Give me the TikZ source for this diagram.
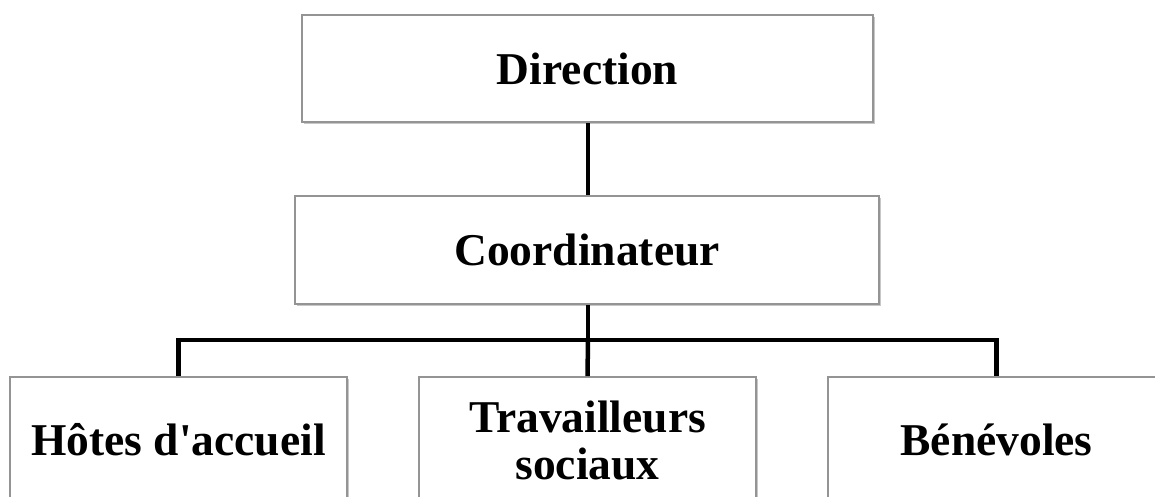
\documentclass[tikz,border=0pt]{standalone}
\usepackage{fontspec}
\setmainfont{Liberation Serif}
\usetikzlibrary{shadows}
\tikzset{
  orgbox/.style={draw=black!42, line width=1.6pt, fill=white, inner sep=0pt,
    font=\fontsize{45.5pt}{47pt}\selectfont\bfseries, align=center,
    drop shadow={shadow xshift=1.8pt, shadow yshift=-2.2pt, opacity=0.22, fill=black}},
  link/.style={line width=4.5pt, black}
}
\begin{document}
\begin{tikzpicture}[x=1pt,y=1pt]
\useasboundingbox (0,0) rectangle (1155,-497);
\node[orgbox, minimum width=571pt, minimum height=107pt] (dir) at (587.5,-68.5) {Direction};
\node[orgbox, minimum width=584pt, minimum height=108pt] (coord) at (587,-250) {Coordinateur};
\node[orgbox, minimum width=337pt, minimum height=126pt] (h) at (178.5,-440) {Hôtes d\textquotesingle accueil};
\node[orgbox, minimum width=337pt, minimum height=126pt] (t) at (587.5,-440) {Travailleurs\\sociaux};
\node[orgbox, minimum width=337pt, minimum height=126pt] (b) at (996.5,-440) {Bénévoles};
\coordinate (bar) at (588,-340);
\draw[link] ([xshift=0.5pt]dir.south) -- ([xshift=1pt]coord.north);
\draw[link] ([xshift=1pt]coord.south) -- (bar);
\draw[link] (h.north) |- (bar) -| (b.north);
\draw[link] (t.north) -- (bar);
\end{tikzpicture}
\end{document}
